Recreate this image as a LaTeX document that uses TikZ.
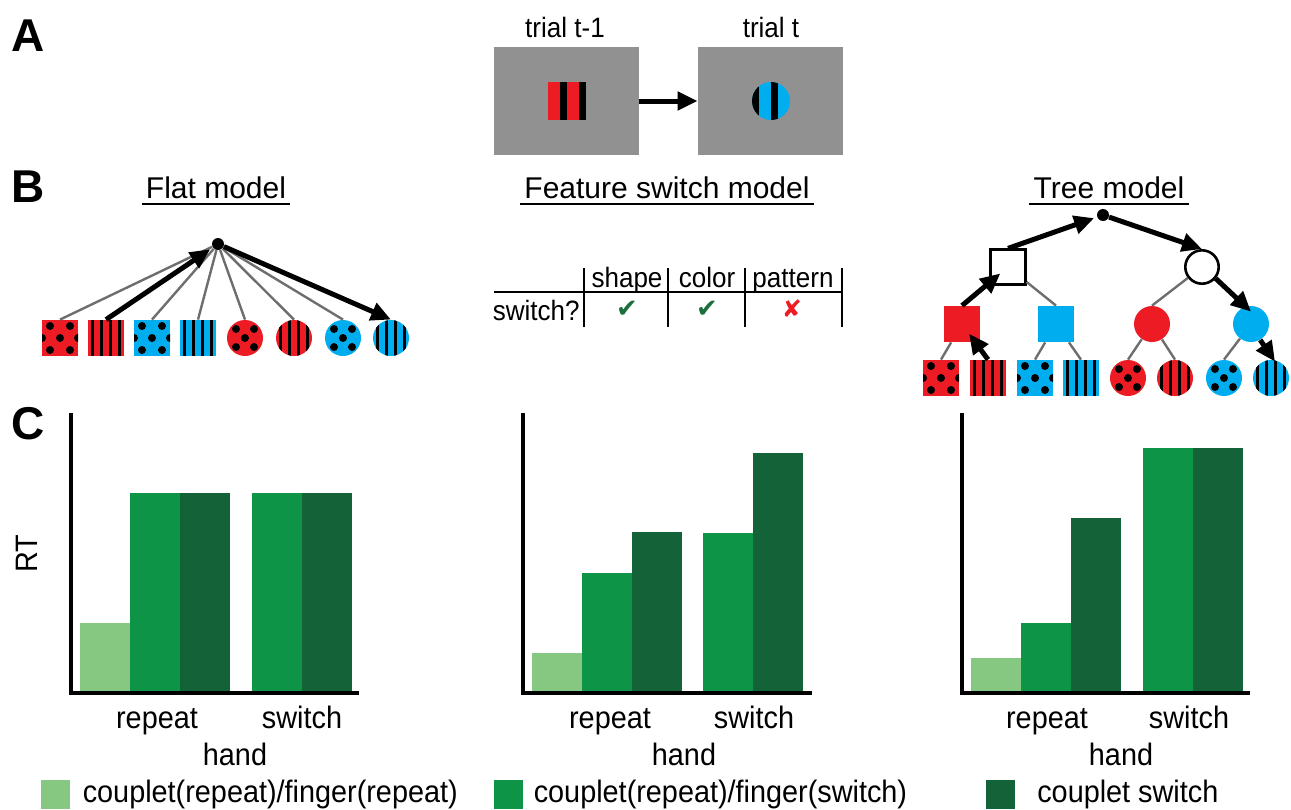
\documentclass[tikz,border=0pt]{standalone}
\usepackage{fontspec}
\setmainfont{Liberation Sans}
\newfontfamily\narrowfont{Liberation Sans}[FakeStretch=0.93]
\newfontfamily\checkfont{DejaVu Sans}
\usepackage{tikz}
\usetikzlibrary{shapes,arrows,positioning,fit,arrows.meta,calc}
\usepackage{xcolor}

\definecolor{stimred}{HTML}{ED1C24}
\definecolor{stimblue}{HTML}{00AEEF}
\definecolor{screengray}{HTML}{929191}
\definecolor{edgegray}{HTML}{6E6E6E}
\definecolor{lightg}{HTML}{86C882}
\definecolor{midg}{HTML}{0E9446}
\definecolor{darkg}{HTML}{146238}
\definecolor{checkg}{HTML}{1B6F3A}

\tikzset{
    panel/.style={font=\fontsize{23}{26}\selectfont\bfseries, inner sep=0pt},
    title/.style={font=\fontsize{15}{18}\selectfont, inner sep=2pt},
    lab/.style={font=\narrowfont\fontsize{15.5}{18}\selectfont, inner sep=0pt},
    small/.style={font=\narrowfont\fontsize{14}{16}\selectfont, inner sep=0pt},
    uline/.style={line width=1.2pt},
    screen/.style={rectangle, fill=screengray, minimum width=72.5pt, minimum height=54pt, inner sep=0pt},
    leafsq/.style={rectangle, minimum size=18pt, inner sep=0pt},
    leafci/.style={circle, minimum size=18pt, inner sep=0pt},
    dot/.style={circle, fill=black, minimum size=6pt, inner sep=0pt},
    edge/.style={draw=edgegray, line width=1.2pt},
    bigarrow/.style={line width=2.5pt, -{Triangle[length=10pt,width=9pt]}},
    axisline/.style={line width=1.7pt},
    legsq/.style={rectangle, minimum size=14.5pt, inner sep=0pt},
    sqdots/.style={path picture={
        \foreach \px/\py in {0/0,10/12,-10/12,10/-12,-10/-12,18/0,-18/0}
            \fill[black] ($(path picture bounding box.center)+(\px,\py)$) circle (2pt);}},
    cidots/.style={path picture={
        \foreach \px/\py in {0/0,9/9,-9/9,9/-9,-9/-9}
            \fill[black] ($(path picture bounding box.center)+(\px,\py)$) circle (2pt);}},
    stripes/.style={path picture={
        \foreach \s in {-13.5,-4.5,4.5,13.5}
            \fill[black] ($(path picture bounding box.north)+(\s-1.2,0)$) rectangle ($(path picture bounding box.south)+(\s+1.2,0)$);}},
    widestripes/.style={path picture={
        \foreach \s in {#1}
            \fill[black] ($(path picture bounding box.north)+(\s-3.5,0)$) rectangle ($(path picture bounding box.south)+(\s+3.5,0)$);}}
}

\begin{document}
\begin{tikzpicture}[x=0.5pt,y=-0.5pt]
    \useasboundingbox (0,0) rectangle (1291,809);
    % Panel letters
    \node[panel] (panA) at (28,36) {A};
    \node[panel] (panB) at (28,187) {B};
    \node[panel] (panC) at (28,424) {C};

    % A: two trials
    \node[small] (trialprev) at (565,27) {trial t-1};
    \node[small] (trialcur) at (771,27) {trial t};
    \node[screen] (scrprev) at (566.5,101) {};
    \node[screen] (scrcur) at (770.5,101) {};
    \node[rectangle, minimum size=19pt, inner sep=0pt, fill=stimred, widestripes={-3.5,15.5}] (stimprev) at (567,101) {};
    \node[circle, minimum size=19pt, inner sep=0pt, fill=stimblue, widestripes={-16,3}] (stimcur) at (771,101) {};
    \draw[bigarrow] (scrprev) -- (scrcur);

    % B: titles
    \node[title] (flattitle) at (216,188) {Flat model};
    \node[title] (feattitle) at (667,188) {Feature switch model};
    \node[title] (treetitle) at (1109,188) {Tree model};
    \foreach \t in {flattitle,feattitle,treetitle}
        \draw[uline] ([yshift=-2.5pt]\t.base west) -- ([yshift=-2.5pt]\t.base east);

    % Flat model
    \node[dot] (flatroot) at (218,244) {};
    \node[leafsq, fill=stimred, sqdots] (f1) at (60,338) {};
    \node[leafsq, fill=stimred, stripes] (f2) at (106,338) {};
    \node[leafsq, fill=stimblue, sqdots] (f3) at (152,338) {};
    \node[leafsq, fill=stimblue, stripes] (f4) at (198,338) {};
    \node[leafci, fill=stimred, cidots] (f5) at (245,338) {};
    \node[leafci, fill=stimred, stripes] (f6) at (294,338) {};
    \node[leafci, fill=stimblue, cidots] (f7) at (343,338) {};
    \node[leafci, fill=stimblue, stripes] (f8) at (391,338) {};
    \foreach \i in {1,3,4,5,6,7}
        \draw[edge] (flatroot) -- (f\i.north);
    \draw[bigarrow, shorten >=1.5pt] (f2.north) -- (flatroot);
    \draw[bigarrow] (flatroot) -- (f8.north);

    % Feature switch table
    \draw[line width=1pt] (494,292) -- (842,292);
    \foreach \x in {584,668,745,842}
        \draw[line width=1pt] (\x,268) -- (\x,327);
    \node[small, anchor=base] (hshape) at (627,287) {shape};
    \node[small, anchor=base] (hcolor) at (707,287) {color};
    \node[small, anchor=base] (hpattern) at (793,287) {pattern};
    \node[small, anchor=base east] (rowlab) at (580,320) {switch?};
    \node[font=\checkfont\fontsize{13}{14}\selectfont, text=checkg, inner sep=0pt] (chkshape) at (627,309) {✔};
    \node[font=\checkfont\fontsize{13}{14}\selectfont, text=checkg, inner sep=0pt] (chkcolor) at (707,309) {✔};
    \node[font=\checkfont\fontsize{12}{14}\selectfont, text=stimred, inner sep=0pt] (crspattern) at (792,309) {✘};

    % Tree model
    \node[dot] (treeroot) at (1103,215) {};
    \node[leafsq, draw, line width=1.3pt, fill=white, minimum size=17.3pt] (colsq) at (1008,267) {};
    \node[leafci, draw, line width=1.3pt, fill=white, minimum size=16.7pt] (colci) at (1202,267) {};
    \node[leafsq, fill=stimred] (redsq) at (962,324) {};
    \node[leafsq, fill=stimblue] (bluesq) at (1056,324) {};
    \node[leafci, fill=stimred] (redci) at (1152,324) {};
    \node[leafci, fill=stimblue] (blueci) at (1251,324) {};
    \node[leafsq, fill=stimred, sqdots] (t1) at (941,378) {};
    \node[leafsq, fill=stimred, stripes] (t2) at (988,378) {};
    \node[leafsq, fill=stimblue, sqdots] (t3) at (1035,378) {};
    \node[leafsq, fill=stimblue, stripes] (t4) at (1081,378) {};
    \node[leafci, fill=stimred, cidots] (t5) at (1128,378) {};
    \node[leafci, fill=stimred, stripes] (t6) at (1175,378) {};
    \node[leafci, fill=stimblue, cidots] (t7) at (1224,378) {};
    \node[leafci, fill=stimblue, stripes] (t8) at (1271,378) {};
    \draw[edge] (colsq) -- (bluesq.north);
    \draw[edge] (colci) -- (redci.north);
    \draw[edge] (redsq) -- (t1.north);
    \draw[edge] (bluesq) -- (t3.north);
    \draw[edge] (bluesq) -- (t4.north);
    \draw[edge] (redci) -- (t5.north);
    \draw[edge] (redci) -- (t6.north);
    \draw[edge] (blueci) -- (t7.north);
    \draw[bigarrow, shorten >=6pt] (t2.north) -- (redsq.center);
    \draw[bigarrow, shorten >=5pt] (redsq.north) -- (colsq.center);
    \draw[bigarrow, shorten >=1.5pt] (colsq.north) -- (treeroot);
    \draw[bigarrow] (treeroot) -- (colci.north);
    \draw[bigarrow] (colci.-40) -- ([yshift=-3pt]blueci.north);
    \draw[bigarrow] (blueci.-60) -- ([xshift=2pt,yshift=-1pt]t8.north);

    % C: RT bars
    \foreach \x/\h/\c in {80/623/lightg,130/493/midg,180/493/darkg,252/493/midg,302/493/darkg,
                          532/653/lightg,582/573/midg,632/532/darkg,703/533/midg,753/453/darkg,
                          971/658/lightg,1021/623/midg,1071/518/darkg,1143/448/midg,1193/448/darkg}
        \fill[\c] (\x,693) rectangle (\x+50,\h);
    \draw[axisline] (71,413) -- (71,693) -- (359,693);
    \draw[axisline] (523,413) -- (523,693) -- (812,693);
    \draw[axisline] (962,413) -- (962,693) -- (1250,693);
    \node[lab, rotate=90] (rtlabel) at (27,554) {RT};
    \node[lab, anchor=base] (rep1) at (157,728) {repeat};
    \node[lab, anchor=base] (swi1) at (302,728) {switch};
    \node[lab, anchor=base] (hand1) at (235,765) {hand};
    \node[lab, anchor=base] (rep2) at (610,728) {repeat};
    \node[lab, anchor=base] (swi2) at (754,728) {switch};
    \node[lab, anchor=base] (hand2) at (684,765) {hand};
    \node[lab, anchor=base] (rep3) at (1047,728) {repeat};
    \node[lab, anchor=base] (swi3) at (1189,728) {switch};
    \node[lab, anchor=base] (hand3) at (1121,765) {hand};

    % Legend
    \node[legsq, fill=lightg] (key1) at (55.5,794) {};
    \node[lab, right=6pt of key1] (keytext1) {couplet(repeat)/finger(repeat)};
    \node[legsq, fill=midg] (key2) at (508.5,794) {};
    \node[lab, right=5pt of key2] (keytext2) {couplet(repeat)/finger(switch)};
    \node[legsq, fill=darkg] (key3) at (1000,794) {};
    \node[lab, right=11pt of key3] (keytext3) {couplet switch};
\end{tikzpicture}
\end{document}
